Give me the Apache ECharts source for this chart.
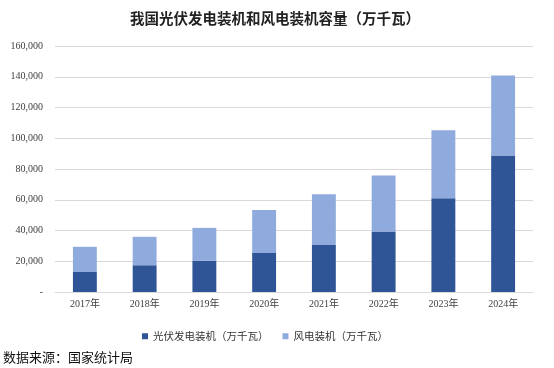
<!DOCTYPE html>
<html>
<head>
<meta charset="utf-8">
<script src="https://cdn.jsdelivr.net/npm/echarts@6/dist/echarts.min.js"></script>
<style>
html,body{margin:0;padding:0;background:#fff;}
#c{width:554px;height:368px;}
</style>
</head>
<body>
<div id="c"></div>
<script>
const categories = ['2017年','2018年','2019年','2020年','2021年','2022年','2023年','2024年'];
const solar = [13000, 17400, 20400, 25400, 30600, 39300, 61000, 88800];
const wind = [16400, 18500, 21300, 28000, 33000, 36500, 44200, 52000];
const seriesNames = ['光伏发电装机（万千瓦）', '风电装机（万千瓦）'];
const titleText = '我国光伏发电装机和风电装机容量（万千瓦）';
const sourceText = '数据来源：国家统计局';

const chart = echarts.init(document.getElementById('c'), null, {renderer:'canvas'});
chart.setOption({
  animation: false,
  backgroundColor: '#fff',
  title: {
    text: titleText,
    left: 270, top: 6, textAlign: 'center',
    textStyle: {fontFamily: 'Noto Sans CJK SC', fontSize: 14.5, fontWeight: 'bold', color: '#222'}
  },
  graphic: [{
    type: 'text', left: 3, top: 351,
    style: {text: sourceText, font: '13px "Noto Sans CJK SC"', fill: '#111'}
  }],
  legend: {
    data: seriesNames,
    left: 137, top: 326,
    icon: 'rect', itemWidth: 6, itemHeight: 6, itemGap: 14,
    textStyle: {fontFamily: '"Noto Sans CJK SC"', fontSize: 10.5, color: '#333'}
  },
  grid: {left: 55, right: 21, top: 46, bottom: 76},
  xAxis: {
    type: 'category', data: categories,
    axisLine: {lineStyle: {color: '#d9d9d9'}},
    axisTick: {show: false},
    axisLabel: {fontFamily: '"Liberation Serif","Noto Sans CJK SC"', fontSize: 10, color: '#404040', margin: 7}
  },
  yAxis: {
    type: 'value', min: 0, max: 160000, interval: 20000,
    axisLine: {show: false}, axisTick: {show: false},
    splitLine: {lineStyle: {color: '#d9d9d9'}},
    axisLabel: {
      fontFamily: '"Liberation Serif"', fontSize: 10, color: '#404040', margin: 12,
      formatter: v => v === 0 ? '-' : v.toLocaleString('en-US')
    }
  },
  series: [
    {name: seriesNames[0], type: 'bar', stack: 'a', data: solar, barWidth: '40%', itemStyle: {color: '#2F5597'}},
    {name: seriesNames[1], type: 'bar', stack: 'a', data: wind, barWidth: '40%', itemStyle: {color: '#8FAADC'}}
  ]
});
</script>
</body>
</html>
